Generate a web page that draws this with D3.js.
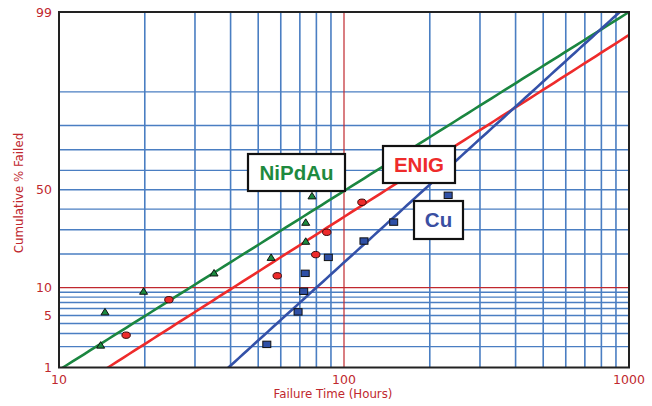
<!DOCTYPE html>
<html><head><meta charset="utf-8">
<script src="https://cdn.jsdelivr.net/npm/d3@7"></script>
<style>body{margin:0;background:#fff}svg{display:block}</style>
</head><body><svg id="c" width="652" height="406"></svg>
<script>
// ---- data ----
const xTicks = [10, 100, 1000];
const yTicks = [1, 5, 10, 50, 99];
const xGridBlue = [20,30,40,50,60,70,80,90,200,300,400,500,600,700,800,900];
const xGridRed = [100];
const yGridBlue = [2,3,4,5,6,7,8,9,20,30,40,50,60,70,80,90];
const yGridRed = [10];

const niTime = [14.0, 14.5, 19.8, 35.0, 55.5, 73.4, 73.4, 77.2];
const niPct  = [2.1, 5.5, 9.2, 13.8, 18.8, 25.0, 33.5, 46.8];
const enTime = [17.2, 24.3, 58.3, 79.6, 87.0, 115.6];
const enPct  = [2.85, 7.5, 13.0, 19.8, 28.9, 43.5];
const cuTime = [53.6, 69.0, 72.2, 73.1, 88.1, 117.5, 149.4, 232];
const cuPct  = [2.15, 5.5, 9.2, 13.7, 18.8, 25.1, 33.6, 47.1];

// lognormal fits: median time (50%) and log10 sigma
const fitNames  = ["NiPdAu", "ENIG", "Cu"];
const fitMedian = [101.6, 141, 191];
const fitSigma  = [0.4269, 0.4201, 0.2951];

// ---- helpers ----
function probit(p){ // inverse normal CDF (Acklam)
  const a=[-39.69683028665376,220.9460984245205,-275.9285104469687,138.3577518672690,-30.66479806614716,2.506628277459239];
  const b=[-54.47609879822406,161.5858368580409,-155.6989798598866,66.80131188771972,-13.28068155288572];
  const c=[-0.007784894002430293,-0.3223964580411365,-2.400758277161838,-2.549732539343734,4.374664141464968,2.938163982698783];
  const d=[0.007784695709041462,0.3224671290700398,2.445134137142996,3.754408661907416];
  const pl=0.02425;
  let q,r;
  if(p<pl){q=Math.sqrt(-2*Math.log(p));return (((((c[0]*q+c[1])*q+c[2])*q+c[3])*q+c[4])*q+c[5])/((((d[0]*q+d[1])*q+d[2])*q+d[3])*q+1);}
  if(p>1-pl){q=Math.sqrt(-2*Math.log(1-p));return -(((((c[0]*q+c[1])*q+c[2])*q+c[3])*q+c[4])*q+c[5])/((((d[0]*q+d[1])*q+d[2])*q+d[3])*q+1);}
  q=p-0.5;r=q*q;return (((((a[0]*r+a[1])*r+a[2])*r+a[3])*r+a[4])*r+a[5])*q/(((((b[0]*r+b[1])*r+b[2])*r+b[3])*r+b[4])*r+1);
}
const z = pct => probit(pct/100);

const L=59, R=629, T=12, B=367.5;
const x = d3.scaleLog().domain([10,1000]).range([L,R]);
const yz = d3.scaleLinear().domain([z(1), z(99)]).range([B,T]);
const y = pct => yz(z(pct));

const svg = d3.select("#c");
const blue="#4a7ec2", dred="#c0282e";
const font="'DejaVu Sans', Verdana, sans-serif";

svg.append("defs").append("clipPath").attr("id","clip")
  .append("rect").attr("x",L).attr("y",T).attr("width",R-L).attr("height",B-T);

const g = svg.append("g");
// grid
g.selectAll(".vg").data(xGridBlue).join("line")
  .attr("x1",d=>x(d)).attr("x2",d=>x(d)).attr("y1",T).attr("y2",B)
  .attr("stroke",blue).attr("stroke-width",1.6);
g.selectAll(".hg").data(yGridBlue).join("line")
  .attr("y1",d=>y(d)).attr("y2",d=>y(d)).attr("x1",L).attr("x2",R)
  .attr("stroke",blue).attr("stroke-width",1.4);
g.selectAll(".vr").data(xGridRed).join("line")
  .attr("x1",d=>x(d)).attr("x2",d=>x(d)).attr("y1",T).attr("y2",B)
  .attr("stroke",dred).attr("stroke-width",1.2);
g.selectAll(".hr").data(yGridRed).join("line")
  .attr("y1",d=>y(d)).attr("y2",d=>y(d)).attr("x1",L).attr("x2",R)
  .attr("stroke",dred).attr("stroke-width",1.2);

// fit lines
const fitColors = ["#1b8640","#ee2b2b","#3451a8"];
const zs = d3.range(-3, 3.01, 0.05);
const lineGen = d3.line().x(d=>x(d[0])).y(d=>yz(d[1]));
const fl = svg.append("g").attr("clip-path","url(#clip)");
fitNames.forEach((n,i)=>{
  const pts = zs.map(v=>[fitMedian[i]*Math.pow(10, fitSigma[i]*v), v]);
  fl.append("path").datum(pts).attr("d",lineGen).attr("fill","none")
    .attr("stroke",fitColors[i]).attr("stroke-width",2.6);
});

// frame
svg.append("rect").attr("x",L).attr("y",T).attr("width",R-L).attr("height",B-T)
  .attr("fill","none").attr("stroke","#222").attr("stroke-width",2);

// markers
const mk = svg.append("g");
niTime.forEach((t,i)=>{
  const cx=x(t), cy=y(niPct[i]);
  mk.append("path").attr("d",`M${cx-4},${cy+3}L${cx+4},${cy+3}L${cx},${cy-3.5}Z`)
    .attr("fill","#1b8a3e").attr("stroke","#111").attr("stroke-width",1);
});
enTime.forEach((t,i)=>{
  mk.append("ellipse").attr("cx",x(t)).attr("cy",y(enPct[i])).attr("rx",4.2).attr("ry",3.2)
    .attr("fill","#ee2b2b").attr("stroke","#3a0a0a").attr("stroke-width",1);
});
cuTime.forEach((t,i)=>{
  mk.append("rect").attr("x",x(t)-4).attr("y",y(cuPct[i])-3.2).attr("width",8).attr("height",6.4)
    .attr("fill","#2f50a6").attr("stroke","#111").attr("stroke-width",1);
});

// tick labels
svg.selectAll(".xt").data(xTicks).join("text")
  .attr("x",d=>x(d)).attr("y",384).attr("text-anchor","middle")
  .attr("font-family",font).attr("font-size",12.5).attr("fill",dred).text(d=>d);
svg.selectAll(".yt").data(yTicks).join("text")
  .attr("x",52).attr("y",d=>y(d)).attr("dy","0.36em").attr("text-anchor","end")
  .attr("font-family",font).attr("font-size",12.5).attr("fill",dred).text(d=>d);

// axis titles
svg.append("text").attr("x",333).attr("y",398).attr("text-anchor","middle")
  .attr("font-family",font).attr("font-size",11.8).attr("fill",dred).text("Failure Time (Hours)");
svg.append("text").attr("transform","translate(23,193) rotate(-90)").attr("text-anchor","middle")
  .attr("font-family",font).attr("font-size",11.8).attr("fill",dred).text("Cumulative % Failed");

// label boxes (annotation layout in pixels)
const boxes = [
  {name:"NiPdAu", r:[248,154,345,191], color:"#1e8a3e"},
  {name:"ENIG",   r:[383,146,455,183], color:"#ee2b2b"},
  {name:"Cu",     r:[414,201,463,239], color:"#3a4fa2"}
];
boxes.forEach(b=>{
  const [x0,y0,x1,y1]=b.r;
  svg.append("rect").attr("x",x0).attr("y",y0).attr("width",x1-x0).attr("height",y1-y0)
    .attr("fill","#fff").attr("stroke","#111").attr("stroke-width",2.2);
  svg.append("text").attr("x",(x0+x1)/2).attr("y",(y0+y1)/2).attr("dy","0.36em")
    .attr("text-anchor","middle").attr("font-family","'Liberation Sans', Arial, sans-serif")
    .attr("font-weight","bold").attr("font-size",20.5).attr("fill",b.color).text(b.name);
});
</script></body></html>
